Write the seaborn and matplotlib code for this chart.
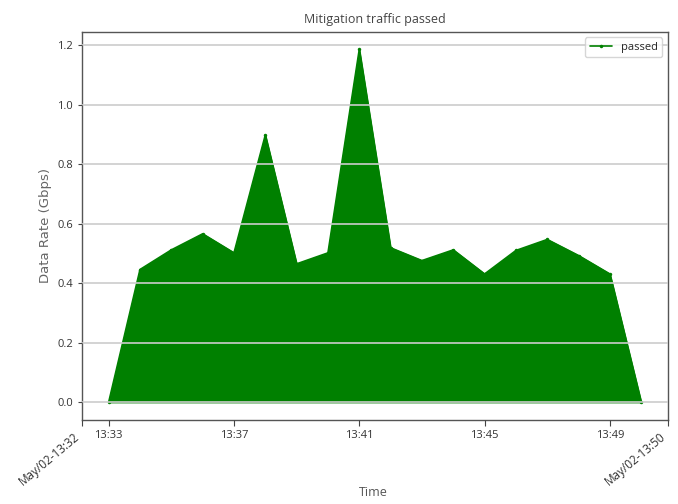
import pandas as pd
import matplotlib.pyplot as plt
import matplotlib.dates as mdates
import seaborn as sns

times = pd.date_range("2019-05-02 13:33", "2019-05-02 13:50", freq="1min")
passed = [0.0, 0.446, 0.512, 0.566, 0.502, 0.898, 0.465, 0.502, 1.186,
          0.519, 0.476, 0.512, 0.431, 0.51, 0.547, 0.493, 0.431, 0.0]
label_minutes = [33, 37, 41, 45, 49]

df = pd.DataFrame({"Time": times, "passed": passed})

sns.set_style("white")
plt.rcParams['font.family'] = ['Open Sans', 'DejaVu Sans']

fig = plt.figure(figsize=(6.78, 5.04), dpi=100)
ax = fig.add_axes([0.121, 0.167, 0.864, 0.770])

sns.lineplot(data=df, x="Time", y="passed", ax=ax, color="green",
             marker=".", markersize=5, markeredgewidth=0, linewidth=1.2,
             label="passed")
ax.fill_between(df["Time"], df["passed"], color="green")

ax.margins(x=0.05, y=0.05)
ax.autoscale_view()
x0, x1 = ax.get_xlim()
ax.set_xticks([x0, x1])
ax.xaxis.set_major_formatter(mdates.DateFormatter("%b/%d-%H:%M"))
ax.xaxis.set_minor_locator(mdates.MinuteLocator(byminute=label_minutes))
ax.xaxis.set_minor_formatter(mdates.DateFormatter("%H:%M"))
for lab in ax.get_xticklabels():
    lab.set_rotation(40)
    lab.set_ha("right")
ax.tick_params(axis="x", which="both", bottom=True, length=4, width=0.8,
               color="#444444", labelsize=8, labelcolor="#333333")
ax.tick_params(axis="x", which="major", labelsize=8.5)
ax.tick_params(axis="y", left=True, length=3, width=0.8, color="#444444",
               labelsize=8, labelcolor="#333333")

ax.set_yticks([0.0, 0.2, 0.4, 0.6, 0.8, 1.0, 1.2])
ax.yaxis.grid(True, color="#cccccc", linewidth=1.2)
ax.set_axisbelow(False)
for s in ax.spines.values():
    s.set_color("#555555")
    s.set_linewidth(1)

ax.set_title("Mitigation traffic passed", fontsize=9, color="#444444")
ax.set_xlabel("Time", fontsize=9, color="#555555", va="center")
ax.xaxis.set_label_coords(0.498, -0.188)
ax.set_ylabel("Data Rate (Gbps)", fontsize=9.5, color="#666666",
              family="DejaVu Sans")
ax.legend(loc="upper right", fontsize=8, frameon=True)

fig.savefig("out.png", dpi=100)
